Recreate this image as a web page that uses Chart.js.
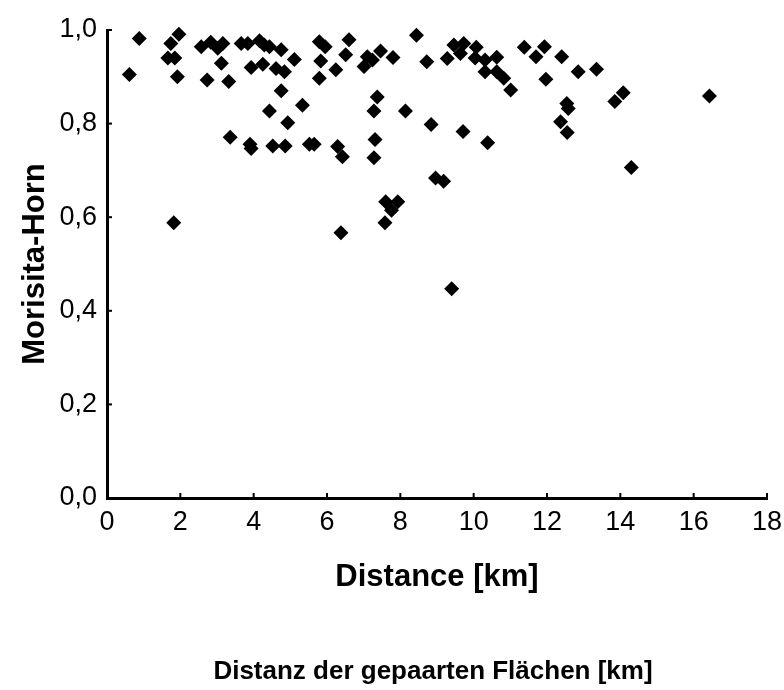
<!DOCTYPE html>
<html>
<head>
<meta charset="utf-8">
<script src="https://cdn.jsdelivr.net/npm/chart.js@4"></script>
<style>
  html, body { margin: 0; padding: 0; background: #fff; }
  #wrap { width: 784px; height: 690px; }
</style>
</head>
<body>
<div id="wrap"><canvas id="chart" width="784" height="690"></canvas></div>
<script>
// Paired plots: distance (km) vs. Morisita-Horn similarity
const distanceKm = [
  0.61, 0.88, 1.74, 1.96, 1.66, 1.85, 1.92, 1.82, 2.57, 2.83,
  3.02, 3.16, 3.12, 2.73, 3.32, 3.36, 3.66, 3.84, 3.93, 3.90,
  3.93, 4.16, 4.29, 4.43, 4.75, 4.25, 4.61, 4.84, 4.75, 4.43,
  4.93, 4.52, 4.86, 5.11, 5.33, 5.52, 5.65, 5.79, 5.95, 5.83,
  5.79, 6.24, 6.29, 6.42, 6.38, 6.51, 6.60, 7.01, 7.10, 7.24,
  7.46, 7.37, 7.28, 7.31, 7.28, 7.58, 7.60, 7.93, 7.76, 7.80,
  8.14, 8.44, 8.72, 8.84, 8.96, 9.18, 9.28, 9.40, 9.46, 9.73,
  9.64, 9.71, 10.07, 10.04, 10.31, 10.63, 10.31, 10.63, 10.82, 11.01,
  10.38, 11.38, 11.70, 11.93, 11.97, 12.40, 12.85, 13.35, 12.54, 12.58,
  12.37, 12.55, 13.85, 14.08, 14.30, 16.43
];
const morisitaHorn = [
  0.905, 0.982, 0.971, 0.991, 0.940, 0.940, 0.900, 0.588, 0.964, 0.974,
  0.961, 0.971, 0.929, 0.893, 0.890, 0.771, 0.971, 0.971, 0.920, 0.756,
  0.747, 0.977, 0.968, 0.964, 0.958, 0.927, 0.918, 0.911, 0.870, 0.827,
  0.802, 0.752, 0.752, 0.937, 0.839, 0.756, 0.756, 0.975, 0.964, 0.934,
  0.897, 0.915, 0.751, 0.729, 0.567, 0.947, 0.979, 0.922, 0.943, 0.936,
  0.955, 0.857, 0.827, 0.766, 0.727, 0.588, 0.633, 0.633, 0.615, 0.941,
  0.827, 0.989, 0.932, 0.798, 0.684, 0.677, 0.939, 0.447, 0.968, 0.971,
  0.950, 0.783, 0.963, 0.940, 0.936, 0.942, 0.911, 0.911, 0.897, 0.872,
  0.759, 0.963, 0.943, 0.964, 0.895, 0.943, 0.911, 0.916, 0.843, 0.832,
  0.804, 0.781, 0.847, 0.866, 0.706, 0.859
];
const xTicks = [0, 2, 4, 6, 8, 10, 12, 14, 16, 18];
const yTicks = [0, 0.2, 0.4, 0.6, 0.8, 1.0];

const points = distanceKm.map((d, i) => ({ x: d, y: morisitaHorn[i] }));

const font = "'Liberation Sans', Arial, sans-serif";

// small inward tick marks on both axes + the second caption line
const axisExtras = {
  id: "axisExtras",
  afterDraw(chart) {
    const { ctx, chartArea, scales } = chart;
    ctx.save();
    ctx.strokeStyle = "#000";
    ctx.lineWidth = 2;
    xTicks.forEach((v) => {
      const px = scales.x.getPixelForValue(v);
      ctx.beginPath();
      ctx.moveTo(px, chartArea.bottom);
      ctx.lineTo(px, chartArea.bottom - 5);
      ctx.stroke();
    });
    yTicks.forEach((v) => {
      const py = scales.y.getPixelForValue(v);
      ctx.beginPath();
      ctx.moveTo(chartArea.left, py);
      ctx.lineTo(chartArea.left + 5, py);
      ctx.stroke();
    });
    ctx.fillStyle = "#000";
    ctx.font = "bold 26px " + font;
    ctx.textAlign = "center";
    ctx.textBaseline = "middle";
    ctx.fillText("Distanz der gepaarten Flächen [km]", 433, 672);
    ctx.restore();
  },
};

new Chart(document.querySelector("#chart"), {
  type: "scatter",
  data: {
    datasets: [
      {
        data: points,
        pointStyle: "rectRot",
        pointRadius: 7.5,
        pointHoverRadius: 7.5,
        backgroundColor: "#000",
        borderColor: "#000",
        borderWidth: 0,
        clip: false,
      },
    ],
  },
  options: {
    responsive: false,
    animation: false,
    layout: { padding: { top: 30, right: 0, bottom: 92, left: 0 } },
    plugins: {
      legend: { display: false },
      tooltip: { enabled: false },
    },
    scales: {
      x: {
        type: "linear",
        min: 0,
        max: 18,
        afterFit: (scale) => {
          scale.height = 100;
          scale.paddingRight = 17;
          scale.paddingLeft = 0;
        },
        afterBuildTicks: (scale) => { scale.ticks = xTicks.map((v) => ({ value: v })); },
        border: { display: true, color: "#000", width: 3 },
        grid: { display: false, drawTicks: false },
        ticks: {
          color: "#000",
          padding: 8,
          font: { family: font, size: 27 },
          callback: (v) => String(v),
        },
        title: {
          display: true,
          text: "Distance [km]",
          color: "#000",
          padding: { top: 0, bottom: 2 },
          font: { family: font, size: 31, weight: "bold" },
        },
      },
      y: {
        type: "linear",
        min: 0,
        max: 1,
        afterFit: (scale) => { scale.width = 107; },
        afterBuildTicks: (scale) => { scale.ticks = yTicks.map((v) => ({ value: v })); },
        border: { display: true, color: "#000", width: 3 },
        grid: { display: false, drawTicks: false },
        ticks: {
          color: "#000",
          padding: 10,
          font: { family: font, size: 27 },
          callback: (v) => v.toFixed(1).replace(".", ","),
        },
        title: {
          display: true,
          text: "Morisita-Horn",
          color: "#000",
          padding: { top: 17, bottom: 0 },
          font: { family: font, size: 31, weight: "bold" },
        },
      },
    },
  },
  plugins: [axisExtras],
});
</script>
</body>
</html>
